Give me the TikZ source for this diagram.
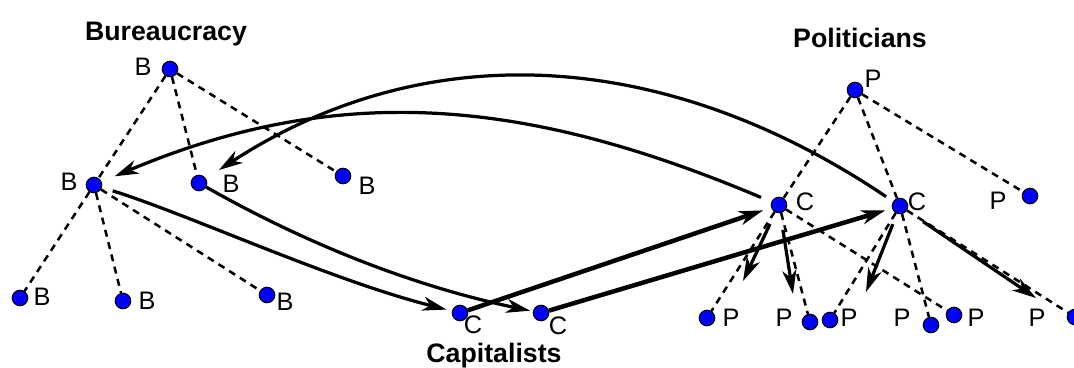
\documentclass[tikz,border=0pt]{standalone}
\usepackage{fontspec}
\setmainfont{Liberation Sans}
\usetikzlibrary{arrows.meta}

\begin{document}
\begin{tikzpicture}[x=0.025cm, y=-0.025cm,
    dot/.style={circle, draw=black, line width=0.8pt, fill=blue, inner sep=0pt, minimum size=11pt},
    lbl/.style={font=\fontsize{18}{20}\selectfont, inner sep=0pt},
    ttl/.style={font=\fontsize{19}{23}\selectfont\bfseries, inner sep=0pt, anchor=base},
    tie/.style={dash pattern=on 5pt off 4pt, line width=1.8pt},
    flow/.style={-{Stealth[length=17pt,width=10pt,inset=5pt]}, line width=2.3pt},
    link/.style={flow, line width=3.2pt}]
    \path[use as bounding box] (0,0) rectangle (1074,368);

    % Bureaucracy
    \node[ttl] (bureau) at (166,40) {Bureaucracy};
    \node[dot] (bT) at (170,69) {};
    \node[lbl] (bT-l) at (143,67) {B};
    \node[dot] (bL) at (94,185) {};
    \node[lbl] (bL-l) at (69,182) {B};
    \node[dot] (bM) at (199,183) {};
    \node[lbl] (bM-l) at (231,184) {B};
    \node[dot] (bR) at (343,176) {};
    \node[lbl] (bR-l) at (367,186) {B};
    \node[dot] (bLL) at (20,298) {};
    \node[lbl] (bLL-l) at (42,297) {B};
    \node[dot] (bLM) at (123,301) {};
    \node[lbl] (bLM-l) at (147,301) {B};
    \node[dot] (bLR) at (267,295) {};
    \node[lbl] (bLR-l) at (285,302) {B};

    % Capitalists
    \node[ttl] (capit) at (494,362) {Capitalists};
    \node[dot] (cA) at (460,313) {};
    \node[lbl] (cA-l) at (473,325) {C};
    \node[dot] (cB) at (541,313) {};
    \node[lbl] (cB-l) at (558,326) {C};
    \node[dot] (cC) at (779,205) {};
    \node[lbl] (cC-l) at (805,202) {C};
    \node[dot] (cD) at (900,206) {};
    \node[lbl] (cD-l) at (917,202) {C};

    % Politicians
    \node[ttl] (polit) at (860,47) {Politicians};
    \node[dot] (pT) at (855,90) {};
    \node[lbl] (pT-l) at (873,79) {P};
    \node[dot] (pR) at (1030,196) {};
    \node[lbl] (pR-l) at (998,201) {P};
    \node[dot] (p1) at (707,318) {};
    \node[lbl] (p1-l) at (731,318) {P};
    \node[dot] (p2) at (810,322) {};
    \node[lbl] (p2-l) at (784,318) {P};
    \node[dot] (p3) at (830,320) {};
    \node[lbl] (p3-l) at (849,318) {P};
    \node[dot] (p4) at (931,325) {};
    \node[lbl] (p4-l) at (902,318) {P};
    \node[dot] (p5) at (954,315) {};
    \node[lbl] (p5-l) at (976,318) {P};
    \node[dot] (p6) at (1075,317) {};
    \node[lbl] (p6-l) at (1037,318) {P};

    % Dashed ties
    \draw[tie] (bT) -- (bL);
    \draw[tie] (bT) -- (bM);
    \draw[tie] (bT) -- (bR);
    \draw[tie] (bL) -- (bLL);
    \draw[tie] (bL) -- (bLM);
    \draw[tie] (bL) -- (bLR);
    \draw[tie] (pT) -- (cC);
    \draw[tie] (pT) -- (cD);
    \draw[tie] (pT) -- (pR);
    \draw[tie] (cC) -- (p1);
    \draw[tie] (cC) -- (p2);
    \draw[tie] (cC) -- (p5);
    \draw[tie] (cD) -- (p3);
    \draw[tie] (cD) -- (p4);
    \draw[tie] (cD) -- (p6);

    % Bureaucracy to capitalists
    \draw[flow, shorten <=8pt, shorten >=4pt] (bL) .. controls (190,215) and (330,280) .. (cA);
    \draw[flow, shorten >=2pt] (bM) .. controls (310,246) and (417,287) .. (cB);

    % Capitalists to capitalists
    \draw[link, shorten >=6pt] (cA) -- (cC);
    \draw[link, shorten >=5pt] (cB) -- (cD);

    % Back to the bureaucracy
    \draw[flow, shorten <=8pt, shorten >=10pt] (cC) .. controls (530,100) and (343,80) .. (bL);
    \draw[flow, shorten <=6pt, shorten >=11pt] (cD) .. controls (670,51) and (431,32) .. (bM);

    % Capitalists to politicians
    \coordinate (t1) at (743,281);
    \coordinate (t2) at (793,294);
    \coordinate (t3) at (866,292);
    \coordinate (t4) at (1036,298);
    \draw[flow, shorten <=9pt] (cC) -- (t1);
    \draw[flow, shorten <=12pt] (cC) -- (t2);
    \draw[flow, shorten <=8pt] (cD) -- (t3);
    \draw[flow, shorten <=14pt] (cD) -- (t4);
\end{tikzpicture}
\end{document}
